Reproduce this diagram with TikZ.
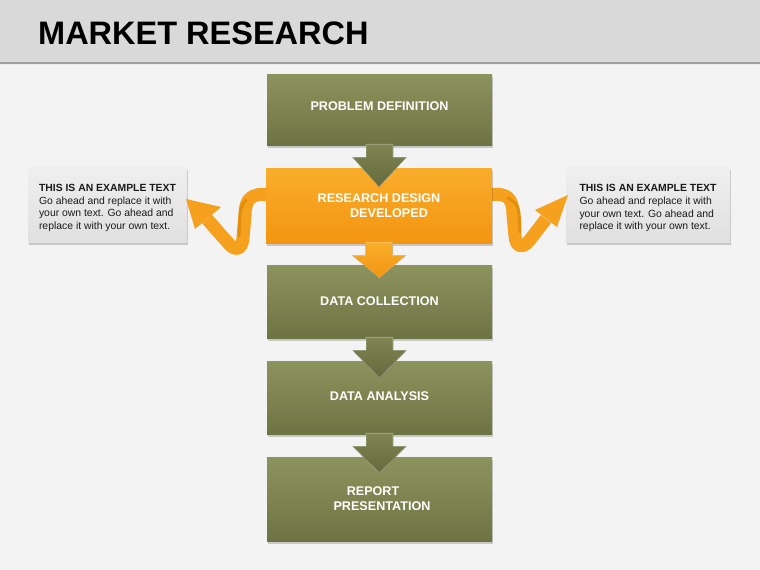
\documentclass[tikz,border=0pt]{standalone}
\usepackage{fontspec}
\setmainfont{Liberation Sans}
\usetikzlibrary{calc,shadows}
\definecolor{bg}{HTML}{F3F3F3}
\definecolor{hdr}{HTML}{D9D9D9}
\definecolor{hdrline}{HTML}{9C9C9C}
\definecolor{olivetop}{HTML}{8D935D}
\definecolor{olivebot}{HTML}{6E7344}
\definecolor{arrowtop}{HTML}{7E8452}
\definecolor{arrowbot}{HTML}{656A3D}
\definecolor{orangetop}{HTML}{F9AD2C}
\definecolor{orangebot}{HTML}{F39510}
\definecolor{ribbon}{HTML}{F5A11E}
\definecolor{ribbondark}{HTML}{E38D0C}
\definecolor{sidetop}{HTML}{EFEFEF}
\definecolor{sidebot}{HTML}{E0E0E0}
\definecolor{sidetext}{HTML}{1A1A1A}
\newcommand{\flowarrow}[5]{%
  \fill[top color=#3, bottom color=#4, draw=white, draw opacity=0.35, line width=0.6pt]
    ($(#1.south)+(-13.5,-1)$) -- ($(#1.south)+(13.5,-1)$) -- ($(#1.south)+(13.5,12)$)
    -- ($(#1.south)+(27,12)$) -- ($(#2.north)+(0,#5)$) -- ($(#1.south)+(-27,12)$)
    -- ($(#1.south)+(-13.5,12)$) -- cycle;}
\begin{document}
\begin{tikzpicture}[x=1pt,y=-1pt,
  boxshadow/.style={general shadow={fill=black, opacity=0.18, shadow xshift=1pt, shadow yshift=-2.5pt}},
  olivebox/.style={rectangle, minimum width=225pt, inner sep=0pt, top color=olivetop, bottom color=olivebot,
     text=white, font=\fontsize{12.6}{15}\selectfont\bfseries, align=center, boxshadow},
  orangebox/.style={olivebox, minimum width=226pt, top color=orangetop, bottom color=orangebot},
  sidebox/.style={rectangle, inner sep=0pt, top color=sidetop, bottom color=sidebot, text=sidetext,
     font=\fontsize{10.4}{12.7}\selectfont, align=left, minimum height=75pt, boxshadow},
  ribbonline/.style={draw=ribbon, line width=13pt, line join=round}
]
\useasboundingbox (0,0) rectangle (760,570);
\fill[bg] (0,0) rectangle (760,570);
% header
\fill[hdr] (0,0) rectangle (760,62);
\fill[hdrline] (0,61.5) rectangle (760,63.5);
\fill[black!8] (0,63.5) rectangle (760,65);
\node[anchor=base west, inner sep=0pt, font=\fontsize{32.5}{36}\selectfont\bfseries, text=black] (title) at (38,44) {MARKET RESEARCH};

% side boxes
\node[sidebox, minimum width=159pt] (lt) at (107.5,204.5) {\rule{0pt}{14pt}\textbf{THIS IS AN EXAMPLE TEXT}\\Go ahead and replace it with\\your own text. Go ahead and\\replace it with your own text.};
\node[sidebox, minimum width=164pt] (rt) at (648,205) {\rule{0pt}{14pt}\textbf{THIS IS AN EXAMPLE TEXT}\\Go ahead and replace it with\\your own text. Go ahead and\\replace it with your own text.};

% ribbons (left)
\path[ribbonline] (270,195) .. controls (250,192) and (245,200) .. (245,216) -- (243,238)
   .. controls (242,250) and (235,251) .. (229,244) -- (207,219);
\draw[ribbondark, line width=3pt, line cap=round] (246,200) .. controls (240,208) .. (239,236);
\fill[ribbon] (186,199) -- (195,229) -- (221,207) -- cycle;
% ribbons (right)
\path[ribbonline] (489,195) .. controls (508,192) and (513,199) .. (513,215) -- (515,236)
   .. controls (516,248) and (523,248) .. (529,241) -- (546,219);
\draw[ribbondark, line width=3pt, line cap=round] (508,198) .. controls (519,205) .. (520,232);
\fill[ribbon] (568,195) -- (535,210) -- (557,227) -- cycle;

% boxes
\node[olivebox, minimum height=71pt] (pd) at (379.5,109.5) {PROBLEM DEFINITION\rule[-7pt]{0pt}{0pt}};
\node[orangebox, minimum height=75pt] (rd) at (379,205.5) {RESEARCH DESIGN\\\hspace*{20pt}DEVELOPED};
\node[olivebox, minimum height=73pt] (dc) at (379.5,301.5) {DATA COLLECTION};
\node[olivebox, minimum height=73pt] (da) at (379.5,397.5) {DATA ANALYSIS\rule[-3pt]{0pt}{0pt}};
\node[olivebox, minimum height=84pt] (rp) at (379.5,499) {REPORT\hspace*{13pt}\\\hspace*{5pt}PRESENTATION};

% arrows
\flowarrow{pd}{rd}{arrowtop}{arrowbot}{19}
\flowarrow{rd}{dc}{orangetop}{orangebot}{13}
\flowarrow{dc}{da}{arrowtop}{arrowbot}{17}
\flowarrow{da}{rp}{arrowtop}{arrowbot}{16}
\end{tikzpicture}
\end{document}
